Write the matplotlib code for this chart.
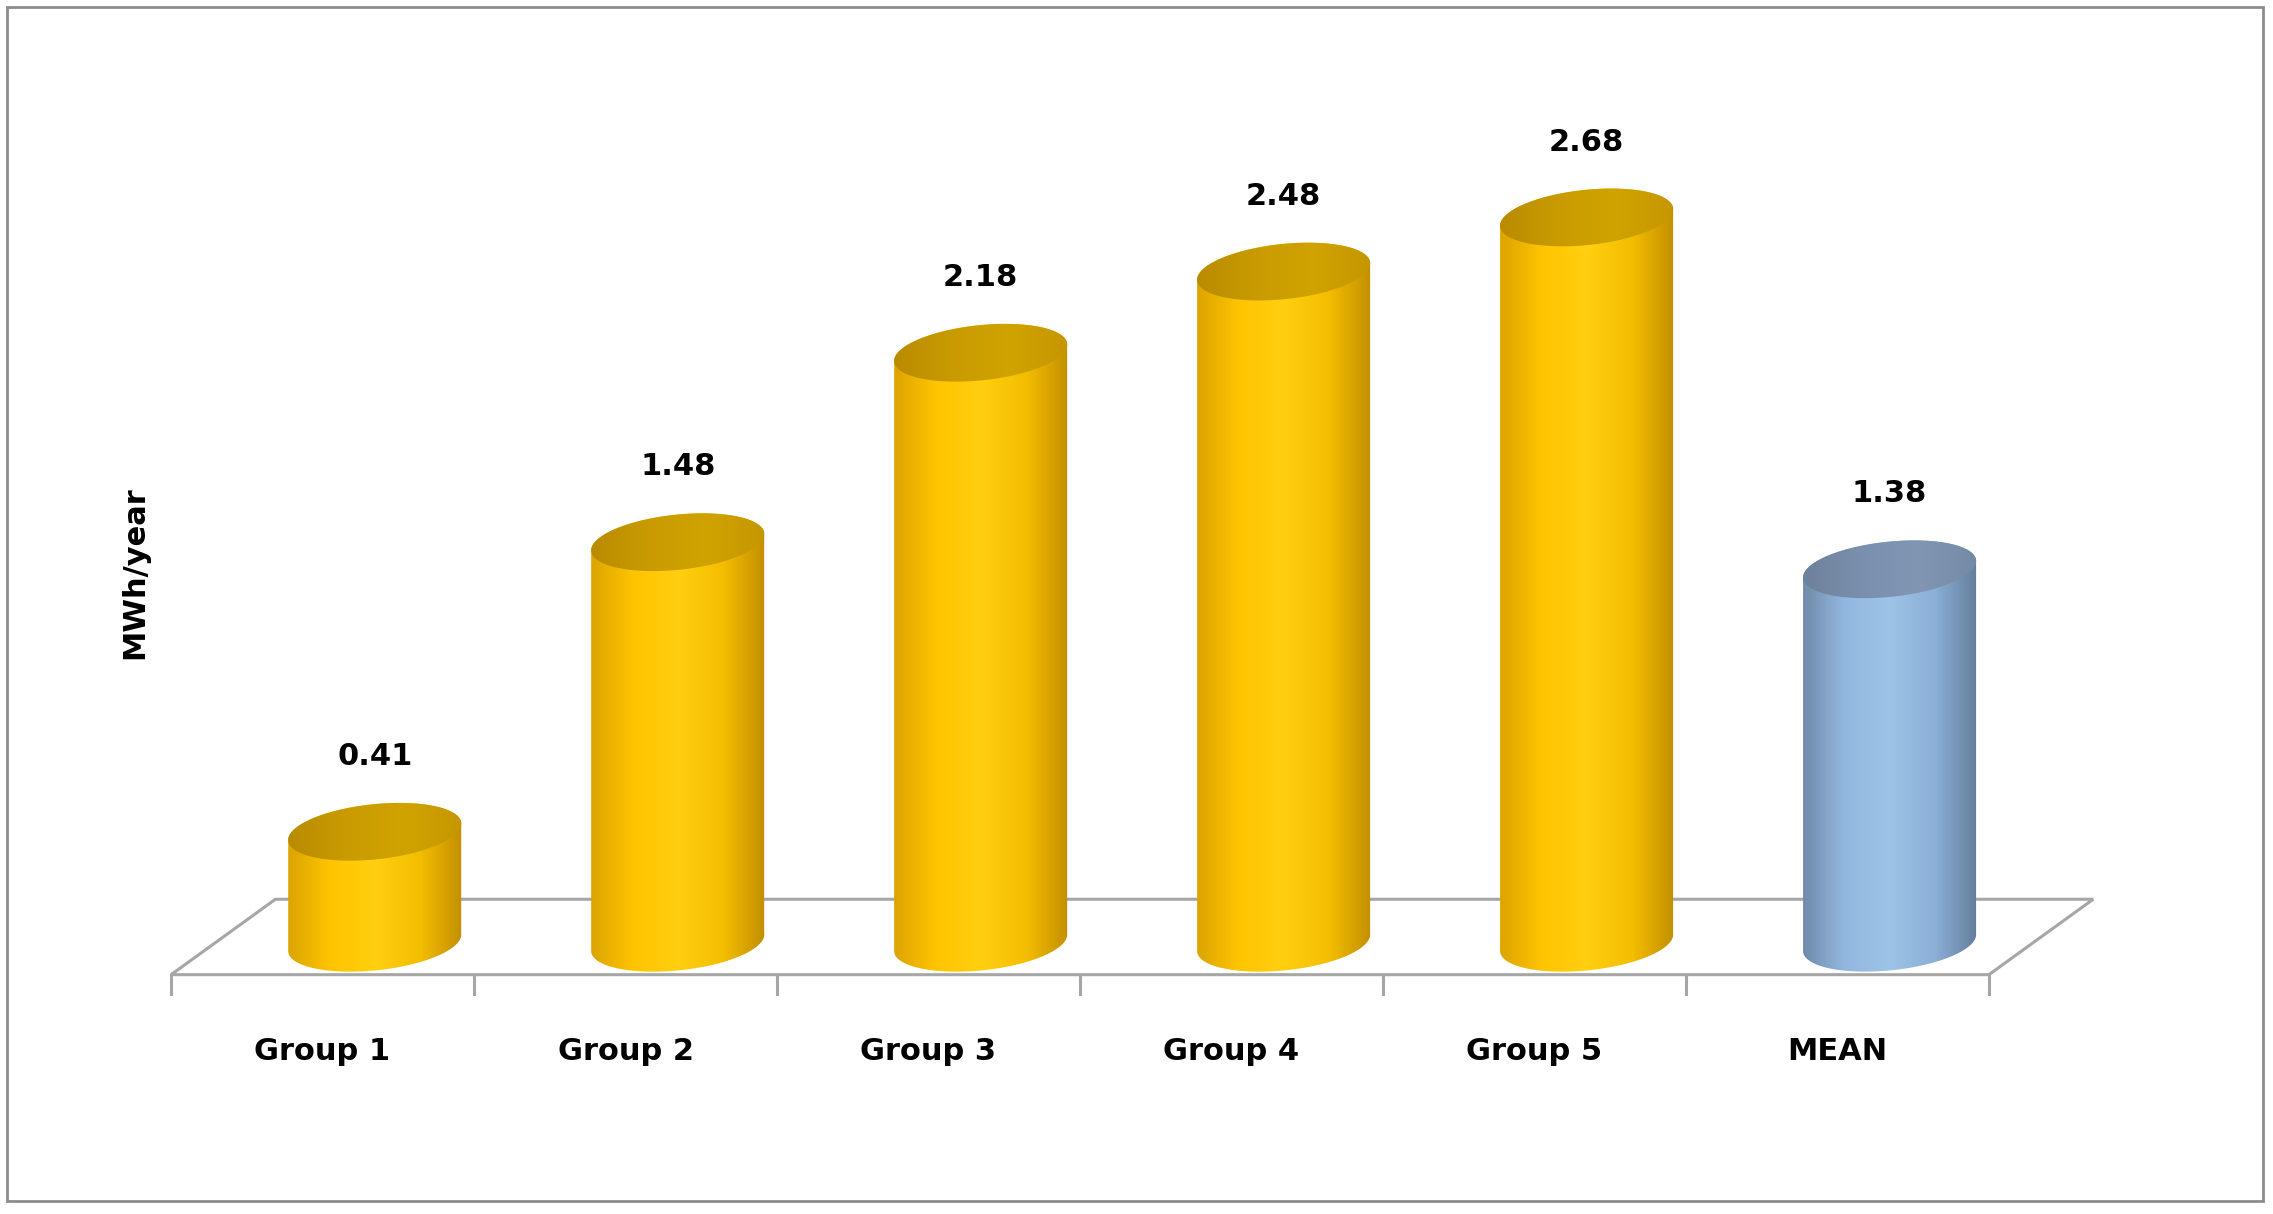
import numpy as np
import matplotlib
matplotlib.use("Agg")
import matplotlib.pyplot as plt
from matplotlib.path import Path
from matplotlib.patches import PathPatch, Polygon, Rectangle
from matplotlib.colors import LinearSegmentedColormap

categories = ["Group 1", "Group 2", "Group 3", "Group 4", "Group 5", "MEAN"]
values = [0.41, 1.48, 2.18, 2.48, 2.68, 1.38]
kinds = ["gold", "gold", "gold", "gold", "gold", "blue"]

# canvas in "display" units (reference scaled to 1568 wide)
W, H = 1568, 837
X0, STEP = 118, 209          # first tick, category width on floor front edge
FRONT_Y, DX, DY = 672, 72, 52  # floor front edge, depth offset
BASE_Y = 650
K = 186.6                    # pixels per MWh/year
A, B, TH = 60, 19, np.deg2rad(-6)

body_cmaps = {
    "gold": LinearSegmentedColormap.from_list("g", ["#D9A200", "#FFC400", "#FFCF10", "#F4BE00", "#C08C00"]),
    "blue": LinearSegmentedColormap.from_list("b", ["#6E87A6", "#93B8DF", "#9DC3E6", "#8BAFD6", "#627A98"]),
}
top_cmaps = {
    "gold": LinearSegmentedColormap.from_list("gt", ["#B88A00", "#C99B00", "#D0A300", "#C59600"]),
    "blue": LinearSegmentedColormap.from_list("bt", ["#6D8099", "#7A8FAD", "#8096B3", "#7489A6"]),
}

plt.rcParams["font.family"] = ["DejaVu Sans"]
fig = plt.figure(figsize=(22.73, 12.14), dpi=100)
ax = fig.add_axes([0, 0, 1, 1])
ax.set_xlim(0, W); ax.set_ylim(H, 0); ax.axis("off")

ax.add_patch(Rectangle((5, 5), 1556, 823, fill=False, ec="#8C8C8C", lw=2))

n = len(categories)
xr = X0 + STEP * n
floor = Polygon([(X0, FRONT_Y), (xr, FRONT_Y), (xr + DX, FRONT_Y - DY), (X0 + DX, FRONT_Y - DY)],
                closed=True, fc="white", ec="#A6A6A6", lw=2.2)
ax.add_patch(floor)
for i in range(n + 1):
    ax.plot([X0 + STEP * i] * 2, [FRONT_Y, FRONT_Y + 13], color="#A6A6A6", lw=2.2)


def ell(cx, cy, t):
    x = cx + A * np.cos(t) * np.cos(TH) - B * np.sin(t) * np.sin(TH)
    y = cy + A * np.cos(t) * np.sin(TH) + B * np.sin(t) * np.cos(TH)
    return np.column_stack([x, y])


grad = np.linspace(0, 1, 256)[None, :]
for i, (v, kind) in enumerate(zip(values, kinds)):
    cx = X0 + STEP * (i + 0.5) + DX / 2
    top = BASE_Y - v * K
    pts = np.vstack([ell(cx, BASE_Y, np.linspace(0, np.pi, 80)),
                     ell(cx, top, np.linspace(np.pi, 2 * np.pi, 80))])
    body = PathPatch(Path(np.vstack([pts, pts[:1]]), closed=True), fc="none", ec="none")
    ax.add_patch(body)
    im = ax.imshow(grad, cmap=body_cmaps[kind], aspect="auto",
                   extent=(cx - A - 2, cx + A + 2, BASE_Y + B + 8, top - B - 8), zorder=2)
    im.set_clip_path(body)
    tp = ell(cx, top, np.linspace(0, 2 * np.pi, 160))
    cap = PathPatch(Path(tp, closed=True), fc="none", ec="none")
    ax.add_patch(cap)
    im2 = ax.imshow(grad, cmap=top_cmaps[kind], aspect="auto",
                    extent=(cx - A - 2, cx + A + 2, top + B + 8, top - B - 8), zorder=3)
    im2.set_clip_path(cap)
    ax.text(cx, top - 52, f"{v:.2f}", ha="center", va="center", fontsize=22, fontweight="bold")
    ax.text(X0 + STEP * (i + 0.5), 725, categories[i], ha="center", va="center",
            fontsize=22, fontweight="bold")

ax.text(93, 395, "MWh/year", ha="center", va="center", rotation=90, fontsize=22, fontweight="bold")
ax.set_xlim(0, W); ax.set_ylim(H, 0)
fig.savefig("out.png", dpi=100)
